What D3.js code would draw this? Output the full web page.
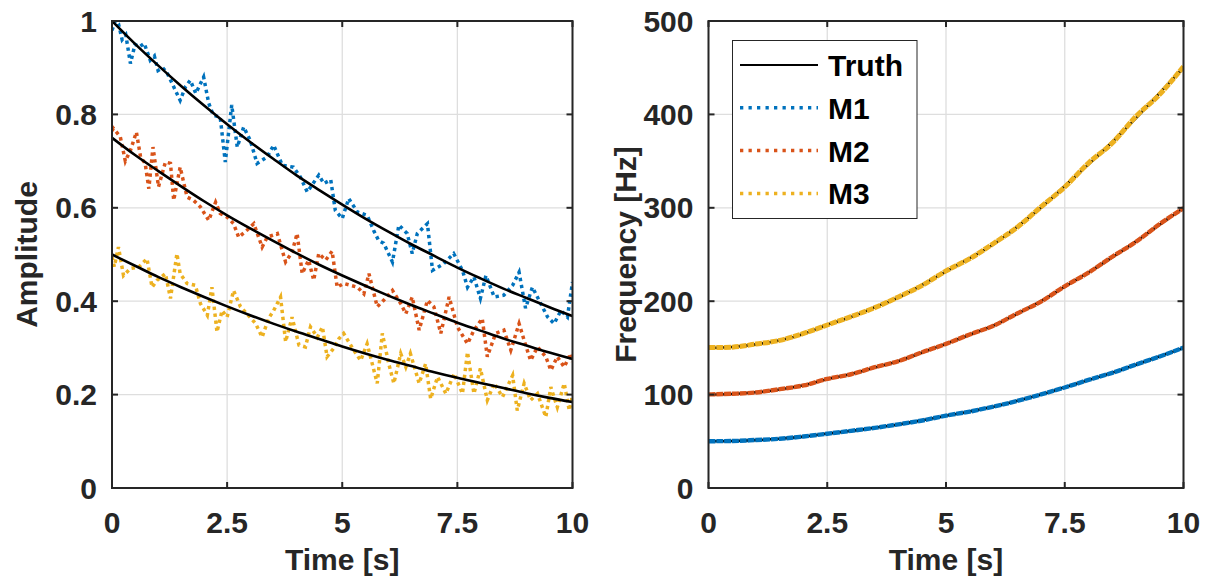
<!DOCTYPE html>
<html>
<head>
<meta charset="utf-8">
<script src="https://cdn.jsdelivr.net/npm/d3@7"></script>
<style>
  body { margin: 0; background: #fff; }
  svg text { font-family: "Liberation Sans", Arial, sans-serif; font-weight: bold; }
</style>
</head>
<body>
<svg id="chart" width="1207" height="579"></svg>
<script>
// ---- data ----
const xTicks = [0, 2.5, 5, 7.5, 10];
const ampTicks = [0, 0.2, 0.4, 0.6, 0.8, 1];
const freqTicks = [0, 100, 200, 300, 400, 500];
const seriesNames = ["Truth", "M1", "M2", "M3"];
const colors = ["#000000", "#0072BD", "#D95319", "#EDB120"];

// common time grid for smooth curves (s)
const tSmooth = [0, 0.5, 1, 1.5, 2, 2.5, 3, 3.5, 4, 4.5, 5, 5.5, 6, 6.5, 7, 7.5, 8, 8.5, 9, 9.5, 10];

// left panel: true amplitudes
const ampTruth1 = [1, 0.951, 0.905, 0.861, 0.819, 0.779, 0.741, 0.705, 0.670, 0.638, 0.607, 0.577, 0.549, 0.522, 0.497, 0.472, 0.449, 0.427, 0.407, 0.387, 0.368];
const ampTruth2 = [0.75, 0.713, 0.679, 0.646, 0.614, 0.584, 0.556, 0.529, 0.503, 0.478, 0.455, 0.433, 0.412, 0.392, 0.373, 0.354, 0.337, 0.320, 0.305, 0.290, 0.276];
const ampTruth3 = [0.5, 0.476, 0.452, 0.430, 0.409, 0.389, 0.370, 0.352, 0.335, 0.319, 0.303, 0.288, 0.274, 0.261, 0.248, 0.236, 0.225, 0.214, 0.203, 0.193, 0.184];

// left panel: noisy estimates [t, amplitude]
const ampM1 = [[0,0.98],[0.07,1.0],[0.14,0.994],[0.22,0.96],[0.3,0.97],[0.4,0.909],[0.5,0.95],[0.6,0.945],[0.7,0.952],[0.83,0.916],[0.92,0.925],[1.0,0.894],[1.1,0.9],[1.2,0.888],[1.34,0.859],[1.48,0.83],[1.6,0.86],[1.7,0.873],[1.82,0.845],[1.99,0.88],[2.1,0.824],[2.2,0.798],[2.35,0.794],[2.46,0.698],[2.6,0.82],[2.72,0.73],[2.86,0.773],[3.0,0.745],[3.15,0.695],[3.37,0.709],[3.51,0.734],[3.7,0.691],[3.94,0.687],[4.09,0.666],[4.24,0.634],[4.49,0.67],[4.6,0.652],[4.75,0.66],[4.85,0.594],[5.0,0.577],[5.14,0.62],[5.33,0.591],[5.54,0.584],[5.68,0.552],[5.79,0.53],[5.9,0.524],[6.09,0.484],[6.23,0.563],[6.41,0.545],[6.52,0.502],[6.63,0.545],[6.85,0.566],[6.96,0.466],[7.2,0.48],[7.42,0.502],[7.61,0.466],[7.72,0.43],[7.86,0.452],[8.0,0.406],[8.12,0.455],[8.3,0.409],[8.51,0.413],[8.7,0.434],[8.84,0.462],[8.98,0.385],[9.13,0.43],[9.31,0.395],[9.46,0.366],[9.6,0.352],[9.75,0.38],[9.89,0.366],[10,0.441]];
const ampM2 = [[0,0.765],[0.03,0.77],[0.18,0.752],[0.29,0.70],[0.4,0.723],[0.53,0.762],[0.62,0.709],[0.72,0.695],[0.8,0.641],[0.89,0.73],[1.01,0.645],[1.16,0.698],[1.27,0.695],[1.34,0.616],[1.48,0.687],[1.63,0.623],[1.77,0.616],[1.92,0.602],[2.1,0.573],[2.25,0.612],[2.35,0.588],[2.5,0.58],[2.64,0.566],[2.75,0.537],[2.93,0.552],[3.08,0.566],[3.26,0.516],[3.37,0.537],[3.59,0.545],[3.77,0.484],[3.91,0.505],[4.02,0.545],[4.13,0.459],[4.27,0.488],[4.38,0.445],[4.49,0.502],[4.64,0.488],[4.78,0.507],[4.89,0.43],[5.03,0.438],[5.33,0.43],[5.47,0.416],[5.58,0.459],[5.76,0.388],[5.9,0.402],[6.09,0.423],[6.27,0.395],[6.38,0.373],[6.52,0.409],[6.67,0.338],[6.85,0.402],[6.99,0.388],[7.14,0.331],[7.32,0.409],[7.5,0.345],[7.72,0.309],[7.86,0.338],[8.04,0.363],[8.15,0.281],[8.33,0.331],[8.51,0.338],[8.66,0.295],[8.84,0.352],[8.95,0.316],[9.09,0.273],[9.24,0.302],[9.42,0.281],[9.53,0.252],[9.67,0.281],[9.82,0.259],[9.96,0.288],[10,0.27]];
const ampM3 = [[0,0.495],[0.05,0.474],[0.14,0.516],[0.25,0.455],[0.4,0.47],[0.58,0.473],[0.76,0.491],[0.87,0.43],[0.98,0.445],[1.16,0.459],[1.27,0.406],[1.41,0.502],[1.48,0.459],[1.63,0.438],[1.81,0.434],[1.92,0.395],[2.07,0.37],[2.17,0.43],[2.28,0.334],[2.39,0.38],[2.5,0.366],[2.64,0.423],[2.79,0.388],[2.93,0.373],[3.12,0.352],[3.26,0.323],[3.4,0.363],[3.51,0.38],[3.66,0.409],[3.77,0.313],[3.91,0.366],[4.06,0.306],[4.2,0.302],[4.31,0.345],[4.46,0.323],[4.57,0.345],[4.67,0.281],[4.82,0.3],[4.93,0.32],[5.03,0.331],[5.25,0.295],[5.4,0.273],[5.54,0.309],[5.76,0.224],[5.87,0.331],[6.01,0.266],[6.12,0.224],[6.27,0.288],[6.38,0.259],[6.48,0.288],[6.67,0.224],[6.81,0.266],[6.92,0.191],[7.07,0.238],[7.25,0.202],[7.43,0.245],[7.61,0.202],[7.72,0.291],[7.86,0.202],[8.0,0.256],[8.15,0.188],[8.3,0.224],[8.48,0.195],[8.7,0.241],[8.8,0.166],[8.95,0.224],[9.09,0.188],[9.24,0.202],[9.42,0.152],[9.53,0.216],[9.67,0.173],[9.82,0.224],[9.93,0.166],[10,0.199]];

// right panel: true frequencies (Hz) on tSmooth
const freqTruth1 = [50, 50.4, 51.3, 52.8, 55, 58.3, 61, 64.5, 68, 72.5, 77.3, 82, 87, 93.3, 100, 107.8, 115.5, 123.5, 132, 141, 150];
const freqTruth2 = [100, 100.7, 102.5, 105.5, 110, 116.5, 122, 129, 136, 145, 154.5, 164, 174, 186.5, 200, 215.5, 231, 247, 264, 282, 300];
const freqTruth3 = [150, 151, 153.8, 158.3, 165, 174.8, 183, 193.5, 204, 217.5, 231.8, 246, 261, 279.8, 300, 323.3, 346.5, 370.5, 396, 423, 450];
// right panel: estimates (Hz) on tSmooth
const freqM1 = [50.1, 50.3, 51.4, 52.7, 55.2, 58.1, 61.2, 64.4, 68.2, 72.3, 77.5, 81.8, 87.2, 93.2, 100.2, 107.6, 115.7, 123.3, 132.2, 140.8, 150.3];
const freqM2 = [100.2, 100.9, 102.3, 105.8, 109.8, 116.8, 121.8, 129.3, 135.8, 145.4, 154.3, 164.4, 173.7, 186.9, 199.6, 216.0, 230.6, 247.6, 263.6, 282.7, 299.6];
const freqM3 = [150.3, 150.8, 154.2, 158.0, 165.5, 174.5, 183.5, 193.1, 204.6, 217.0, 232.4, 245.5, 261.8, 279.2, 301.0, 322.3, 347.9, 369.3, 397.8, 421.6, 451.2];

// ---- drawing ----
const svg = d3.select("#chart");
const axisColor = "#262626";
const fontSize = 30;

function drawPanel(p) {
    const x = d3.scaleLinear().domain([0, 10]).range([p.left, p.right]);
    const y = d3.scaleLinear().domain(p.yDomain).range([p.bottom, p.top]);
    const g = svg.append("g");

    g.append("clipPath").attr("id", p.id + "clip")
        .append("rect")
        .attr("x", p.left).attr("y", p.top)
        .attr("width", p.right - p.left).attr("height", p.bottom - p.top);

    // grid
    g.append("g").selectAll("line").data(xTicks).enter().append("line")
        .attr("x1", d => x(d)).attr("x2", d => x(d))
        .attr("y1", p.top).attr("y2", p.bottom)
        .attr("stroke", "#dedede").attr("stroke-width", 1.3);
    g.append("g").selectAll("line").data(p.yTicks).enter().append("line")
        .attr("y1", d => y(d)).attr("y2", d => y(d))
        .attr("x1", p.left).attr("x2", p.right)
        .attr("stroke", "#dedede").attr("stroke-width", 1.3);

    // data
    const plot = g.append("g").attr("clip-path", `url(#${p.id}clip)`);
    p.draw(plot, x, y);

    // box + inward ticks on every side
    g.append("rect")
        .attr("x", p.left).attr("y", p.top)
        .attr("width", p.right - p.left).attr("height", p.bottom - p.top)
        .attr("fill", "none").attr("stroke", axisColor).attr("stroke-width", 2);
    const tk = 6;
    xTicks.forEach(d => {
        g.append("line").attr("x1", x(d)).attr("x2", x(d)).attr("y1", p.bottom).attr("y2", p.bottom - tk)
            .attr("stroke", axisColor).attr("stroke-width", 2);
        g.append("line").attr("x1", x(d)).attr("x2", x(d)).attr("y1", p.top).attr("y2", p.top + tk)
            .attr("stroke", axisColor).attr("stroke-width", 2);
    });
    p.yTicks.forEach(d => {
        g.append("line").attr("y1", y(d)).attr("y2", y(d)).attr("x1", p.left).attr("x2", p.left + tk)
            .attr("stroke", axisColor).attr("stroke-width", 2);
        g.append("line").attr("y1", y(d)).attr("y2", y(d)).attr("x1", p.right).attr("x2", p.right - tk)
            .attr("stroke", axisColor).attr("stroke-width", 2);
    });

    // tick labels
    g.append("g").selectAll("text").data(xTicks).enter().append("text")
        .attr("x", d => x(d)).attr("y", p.bottom + 45)
        .attr("text-anchor", "middle").attr("font-size", fontSize).attr("fill", axisColor)
        .text(d => d);
    g.append("g").selectAll("text").data(p.yTicks).enter().append("text")
        .attr("x", p.left - 15).attr("y", d => y(d) + 10.5)
        .attr("text-anchor", "end").attr("font-size", fontSize).attr("fill", axisColor)
        .text(d => d);

    // axis titles
    g.append("text")
        .attr("x", (p.left + p.right) / 2).attr("y", p.bottom + 82)
        .attr("text-anchor", "middle").attr("font-size", fontSize).attr("fill", axisColor)
        .text("Time [s]");
    g.append("text")
        .attr("transform", `translate(${p.yTitleX},${(p.top + p.bottom) / 2}) rotate(-90)`)
        .attr("text-anchor", "middle").attr("font-size", fontSize).attr("fill", axisColor)
        .text(p.yTitle);
}

const dotted = sel => sel.attr("fill", "none").attr("stroke-width", 3.5)
    .attr("stroke-dasharray", "3.4,3.6").attr("stroke-linecap", "butt");

drawPanel({
    id: "amp", left: 112, right: 572.5, top: 21, bottom: 488,
    yDomain: [0, 1], yTicks: ampTicks, yTitle: "Amplitude", yTitleX: 37,
    draw: (plot, x, y) => {
        const pairLine = d3.line().x(d => x(d[0])).y(d => y(d[1]));
        [ampM1, ampM2, ampM3].forEach((s, i) => {
            plot.append("path").datum(s).attr("d", pairLine)
                .call(dotted).attr("stroke", colors[i + 1]);
        });
        const smooth = d3.line().x((d, i) => x(tSmooth[i])).y(d => y(d)).curve(d3.curveMonotoneX);
        [ampTruth1, ampTruth2, ampTruth3].forEach(s => {
            plot.append("path").datum(s).attr("d", smooth)
                .attr("fill", "none").attr("stroke", colors[0]).attr("stroke-width", 2.6);
        });
    }
});

drawPanel({
    id: "freq", left: 708.5, right: 1183.5, top: 21, bottom: 488,
    yDomain: [0, 500], yTicks: freqTicks, yTitle: "Frequency [Hz]", yTitleX: 636,
    draw: (plot, x, y) => {
        const smooth = d3.line().x((d, i) => x(tSmooth[i])).y(d => y(d)).curve(d3.curveMonotoneX);
        [freqTruth1, freqTruth2, freqTruth3].forEach(s => {
            plot.append("path").datum(s).attr("d", smooth)
                .attr("fill", "none").attr("stroke", colors[0]).attr("stroke-width", 2.6);
        });
        [freqM1, freqM2, freqM3].forEach((s, i) => {
            plot.append("path").datum(s).attr("d", smooth)
                .attr("fill", "none").attr("stroke", colors[i + 1])
                .attr("stroke-width", i === 2 ? 5 : 4.4).attr("stroke-dasharray", "7,0.8");
        });
    }
});

// legend
const legend = svg.append("g");
legend.append("rect")
    .attr("x", 732.5).attr("y", 40.5).attr("width", 184.5).attr("height", 178)
    .attr("fill", "#fff").attr("stroke", axisColor).attr("stroke-width", 1);
seriesNames.forEach((name, i) => {
    const ly = 65 + i * 42.8;
    const ln = legend.append("line")
        .attr("x1", 740).attr("x2", 818).attr("y1", ly).attr("y2", ly)
        .attr("stroke", colors[i]);
    if (i === 0) ln.attr("stroke-width", 2.2);
    else ln.call(dotted).attr("stroke-dasharray", "3.3,5.2");
    legend.append("text")
        .attr("x", 828).attr("y", ly + 11)
        .attr("font-size", fontSize).attr("fill", "#000")
        .text(name);
});
</script>
</body>
</html>
